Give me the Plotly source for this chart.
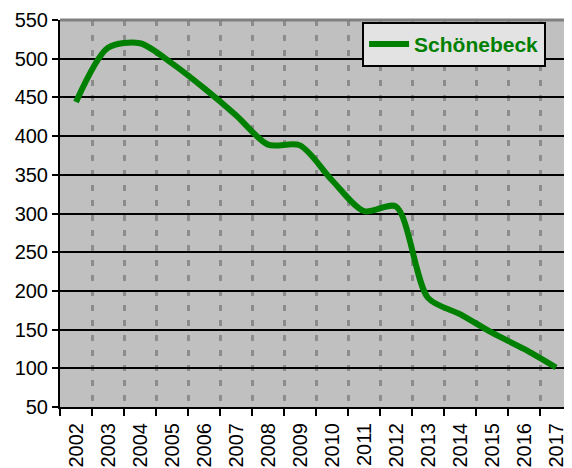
import plotly.graph_objects as go

years = [str(y) for y in range(2002, 2018)]
values = [444, 514, 520, 494, 462, 427, 389, 388, 343, 303, 309, 191, 170, 146, 125, 101]
series_name = "Schönebeck"
y_ticks = list(range(50, 551, 50))

FONT = "Liberation Sans, Arial, sans-serif"

fig = go.Figure()
fig.add_trace(go.Scatter(
    x=years, y=values, mode="lines", name=series_name,
    line=dict(color="#008000", width=6, shape="spline", smoothing=0.8),
    showlegend=True,
))

# page body has an 8px default margin, so the figure is sized/offset to compensate
fig.update_layout(
    width=564, height=460,
    margin=dict(l=52, r=0, t=12, b=61, autoexpand=False),
    paper_bgcolor="white", plot_bgcolor="#c0c0c0",
    font=dict(family=FONT, size=20, color="black"),
    showlegend=True,
    legend=dict(
        x=0.59, y=0.995, xanchor="left", yanchor="top",
        bgcolor="#e3e3e3", bordercolor="black", borderwidth=2,
        font=dict(family=FONT, size=21, color="#008000", weight="bold"),
        itemwidth=40, tracegroupgap=0,
    ),
    xaxis=dict(
        type="category", tickson="boundaries", automargin=False,
        ticks="outside", ticklen=7, tickwidth=2, tickcolor="black",
        showline=True, linecolor="black", linewidth=2,
        showgrid=True, gridcolor="#8c8c8c", gridwidth=2.5, griddash="6px,9px",
        tickangle=-90, tickfont=dict(size=20), ticklabelstandoff=6,
        range=[-0.5, 15.5],
    ),
    yaxis=dict(
        range=[50, 550], tickvals=y_ticks, automargin=False,
        ticks="outside", ticklen=6, tickwidth=2, tickcolor="black",
        showline=True, linecolor="black", linewidth=2,
        showgrid=True, gridcolor="black", gridwidth=2,
        zeroline=False, tickfont=dict(size=20),
    ),
    shapes=[dict(type="line", xref="paper", yref="paper", x0=0, x1=1, y0=1, y1=1,
                 line=dict(color="#808080", width=3))],
)

fig.write_html("out.html")
